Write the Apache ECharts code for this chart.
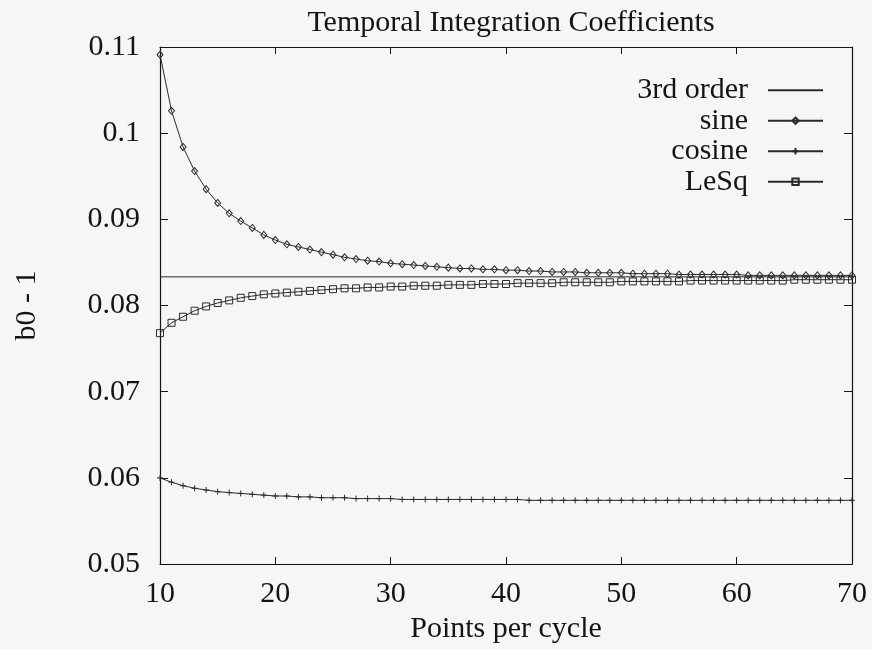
<!DOCTYPE html>
<html>
<head>
<meta charset="utf-8">
<title>Temporal Integration Coefficients</title>
<script src="https://cdn.jsdelivr.net/npm/echarts@6/dist/echarts.min.js"></script>
<style>
  html, body { margin: 0; padding: 0; background: #f6f6f5; }
  #chart { width: 872px; height: 649px; }
</style>
</head>
<body>
<div id="chart"></div>
<script>
// Points per cycle, N = 10 .. 70
const pointsPerCycle = [
  10, 11, 12, 13, 14, 15, 16, 17, 18, 19,
  20, 21, 22, 23, 24, 25, 26, 27, 28, 29,
  30, 31, 32, 33, 34, 35, 36, 37, 38, 39,
  40, 41, 42, 43, 44, 45, 46, 47, 48, 49,
  50, 51, 52, 53, 54, 55, 56, 57, 58, 59,
  60, 61, 62, 63, 64, 65, 66, 67, 68, 69,
  70
];

// b0 - 1 for the sine-fitted scheme
const sineValues = [
  0.1091, 0.1026, 0.0984, 0.0956, 0.0935, 0.0919, 0.0907, 0.0898, 0.0890, 0.0882,
  0.0876, 0.0871, 0.0868, 0.0865, 0.0862, 0.0859, 0.0856, 0.0854, 0.0852, 0.0851,
  0.0849, 0.0848, 0.0847, 0.0846, 0.0845, 0.0844, 0.0843, 0.0843, 0.0842, 0.0842,
  0.0841, 0.0841, 0.0840, 0.0840, 0.0839, 0.0839, 0.0839, 0.0838, 0.0838, 0.0838,
  0.0838, 0.0837, 0.0837, 0.0837, 0.0837, 0.0836, 0.0836, 0.0836, 0.0836, 0.0836,
  0.0836, 0.0835, 0.0835, 0.0835, 0.0835, 0.0835, 0.0835, 0.0835, 0.0835, 0.0835,
  0.0835
];

// b0 - 1 for the cosine-fitted scheme
const cosineValues = [
  0.0600, 0.0595, 0.0591, 0.0588, 0.0586, 0.0584, 0.0583, 0.0582, 0.0581, 0.0580,
  0.0579, 0.0579, 0.0578, 0.0578, 0.0577, 0.0577, 0.0577, 0.0576, 0.0576, 0.0576,
  0.0576, 0.0575, 0.0575, 0.0575, 0.0575, 0.0575, 0.0575, 0.0575, 0.0575, 0.0575,
  0.0575, 0.0575, 0.0574, 0.0574, 0.0574, 0.0574, 0.0574, 0.0574, 0.0574, 0.0574,
  0.0574, 0.0574, 0.0574, 0.0574, 0.0574, 0.0574, 0.0574, 0.0574, 0.0574, 0.0574,
  0.0574, 0.0574, 0.0574, 0.0574, 0.0574, 0.0574, 0.0574, 0.0574, 0.0574, 0.0574,
  0.0574
];

// b0 - 1 for the least-squares scheme
const leSqValues = [
  0.0768, 0.0780, 0.0787, 0.0794, 0.0799, 0.0803, 0.0806, 0.0809, 0.0811, 0.0813,
  0.0814, 0.0815, 0.0816, 0.0817, 0.0818, 0.0819, 0.0820, 0.0820, 0.0821, 0.0821,
  0.0822, 0.0822, 0.0823, 0.0823, 0.0823, 0.0824, 0.0824, 0.0824, 0.0825, 0.0825,
  0.0825, 0.0826, 0.0826, 0.0826, 0.0826, 0.0827, 0.0827, 0.0827, 0.0827, 0.0827,
  0.0828, 0.0828, 0.0828, 0.0828, 0.0828, 0.0828, 0.0829, 0.0829, 0.0829, 0.0829,
  0.0829, 0.0829, 0.0829, 0.0829, 0.0829, 0.0830, 0.0830, 0.0830, 0.0830, 0.0830,
  0.0830
];

// Constant third-order coefficient (1/12) across the range
const thirdOrderX = [10, 70];
const thirdOrderValues = [0.08333, 0.08333];

// Axis ticks
const xTicks = [10, 20, 30, 40, 50, 60, 70];
const yTicks = [0.05, 0.06, 0.07, 0.08, 0.09, 0.10, 0.11];
const yTickLabels = ['0.05', '0.06', '0.07', '0.08', '0.09', '0.1', '0.11'];

const FONT = '"Liberation Serif", "DejaVu Serif", serif';
const FONT_SIZE = 30;
const INK = '#141414';
const LINE = '#2a2a2a';

const pair = (xs, ys) => xs.map((x, i) => [x, ys[i]]);

const yLabel = (v) => {
  const i = yTicks.findIndex(t => Math.abs(t - v) < 1e-9);
  return i >= 0 ? yTickLabels[i] : '';
};

const markerStyle = {
  color: 'rgba(0,0,0,0)',
  borderColor: LINE,
  borderWidth: 1
};

const chart = echarts.init(document.getElementById('chart'), null, { renderer: 'canvas' });

const frameAxis = {
  type: 'value',
  min: xTicks[0],
  max: xTicks[xTicks.length - 1],
  interval: 10,
  axisLine: { show: true, onZero: false, lineStyle: { color: INK, width: 1.2 } },
  axisTick: { show: true, inside: true, length: 7, lineStyle: { color: INK, width: 1 } },
  splitLine: { show: false }
};

chart.setOption({
  backgroundColor: '#f6f6f5',
  animation: false,
  title: {
    text: 'Temporal Integration Coefficients',
    left: 506,
    top: 3,
    textAlign: 'center',
    textStyle: { fontFamily: FONT, fontSize: FONT_SIZE, fontWeight: 'normal', color: INK }
  },
  grid: { left: 160, right: 20, top: 47, bottom: 80, containLabel: false },
  legend: {
    orient: 'vertical',
    align: 'right',
    right: 48,
    top: 75,
    padding: 0,
    itemGap: 0,
    itemWidth: 55,
    itemHeight: 8,
    textStyle: {
      fontFamily: FONT, fontSize: FONT_SIZE, color: INK,
      lineHeight: 30.5, padding: [0, 15, 0, 0]
    },
    data: ['3rd order', 'sine', 'cosine', 'LeSq']
  },
  xAxis: [
    Object.assign({}, frameAxis, {
      position: 'bottom',
      name: 'Points per cycle',
      nameLocation: 'middle',
      nameGap: 48,
      nameTextStyle: { fontFamily: FONT, fontSize: FONT_SIZE, color: INK },
      axisLabel: { show: true, margin: 15, fontFamily: FONT, fontSize: FONT_SIZE, color: INK }
    }),
    Object.assign({}, frameAxis, {
      position: 'top',
      axisLabel: { show: false }
    })
  ],
  yAxis: [
    Object.assign({}, frameAxis, {
      min: yTicks[0],
      max: yTicks[yTicks.length - 1],
      interval: 0.01,
      position: 'left',
      name: 'b0 - 1',
      nameLocation: 'middle',
      nameGap: 118,
      nameTextStyle: { fontFamily: FONT, fontSize: FONT_SIZE, color: INK },
      axisTick: { show: true, inside: true, length: 8, lineStyle: { color: INK, width: 1 } },
      axisLabel: { show: true, margin: 20, fontFamily: FONT, fontSize: FONT_SIZE, color: INK, formatter: yLabel }
    }),
    Object.assign({}, frameAxis, {
      min: yTicks[0],
      max: yTicks[yTicks.length - 1],
      interval: 0.01,
      position: 'right',
      axisTick: { show: true, inside: true, length: 8, lineStyle: { color: INK, width: 1 } },
      axisLabel: { show: false }
    })
  ],
  series: [
    {
      name: '3rd order',
      type: 'line',
      xAxisIndex: 0, yAxisIndex: 0,
      data: pair(thirdOrderX, thirdOrderValues),
      symbol: 'circle',
      showSymbol: false,
      itemStyle: { color: 'rgba(0,0,0,0)', borderWidth: 0 },
      lineStyle: { color: LINE, width: 1 },
      silent: true
    },
    {
      name: 'sine',
      type: 'line',
      xAxisIndex: 0, yAxisIndex: 0,
      data: pair(pointsPerCycle, sineValues),
      symbol: 'diamond',
      symbolSize: [6, 7],
      itemStyle: markerStyle,
      lineStyle: { color: LINE, width: 1 },
      silent: true
    },
    {
      name: 'cosine',
      type: 'line',
      xAxisIndex: 0, yAxisIndex: 0,
      data: pair(pointsPerCycle, cosineValues),
      symbol: 'path://M0,3L6,3M3,0L3,6',
      symbolSize: 6,
      itemStyle: markerStyle,
      lineStyle: { color: LINE, width: 1 },
      silent: true
    },
    {
      name: 'LeSq',
      type: 'line',
      xAxisIndex: 0, yAxisIndex: 0,
      data: pair(pointsPerCycle, leSqValues),
      symbol: 'rect',
      symbolSize: 7,
      itemStyle: markerStyle,
      lineStyle: { color: LINE, width: 1 },
      silent: true
    }
  ]
});
</script>
</body>
</html>
